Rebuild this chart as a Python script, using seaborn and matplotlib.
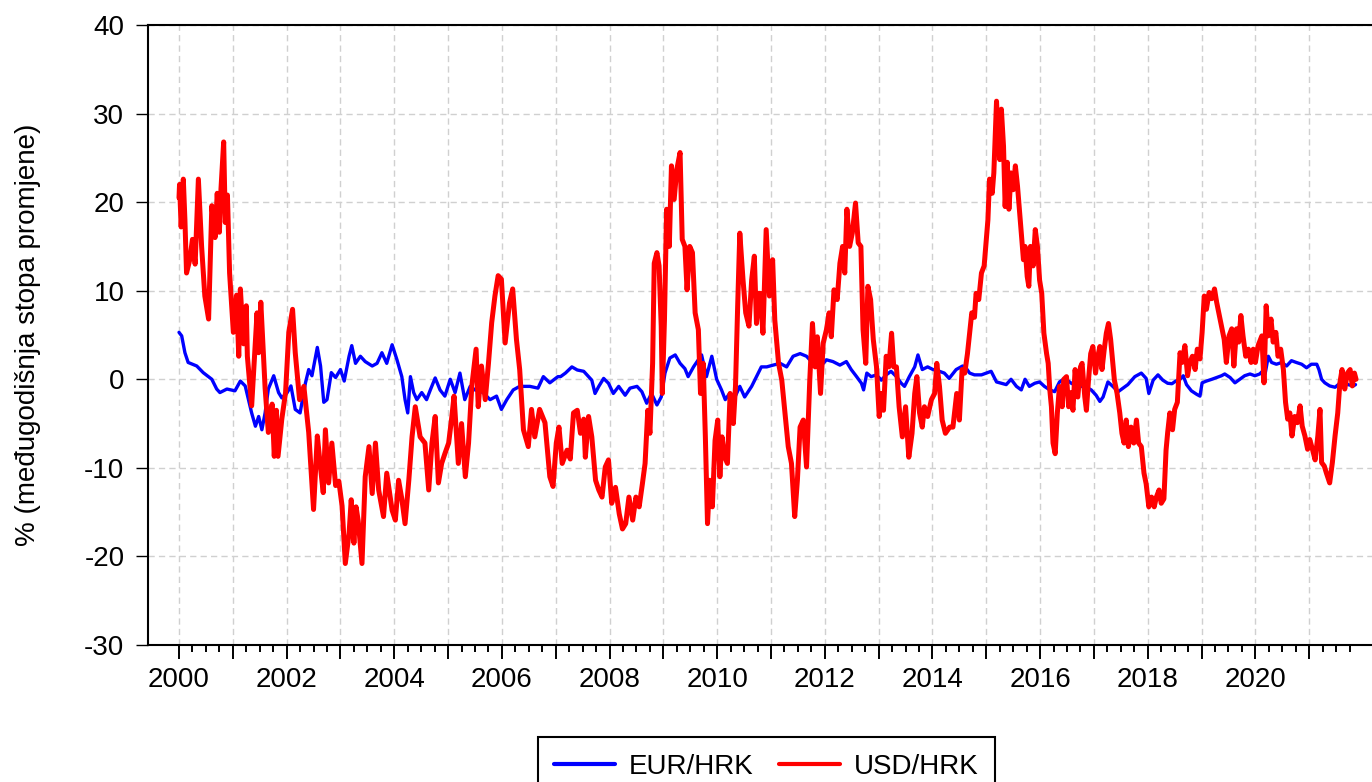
import matplotlib
matplotlib.use("Agg")
import matplotlib.pyplot as plt
import pandas as pd
import seaborn as sns
from matplotlib.ticker import FixedLocator, FixedFormatter

# ---------------- data (decimal year, % y/y change) ----------------
usd_t = [2000.00, 2000.01, 2000.04, 2000.08, 2000.11, 2000.14, 2000.20, 2000.25, 2000.30, 2000.36,
         2000.42, 2000.48, 2000.55, 2000.61, 2000.67, 2000.71, 2000.75, 2000.78, 2000.83, 2000.86,
         2000.90, 2000.94, 2001.01, 2001.07, 2001.11, 2001.14, 2001.20, 2001.25, 2001.27, 2001.35,
         2001.45, 2001.48, 2001.52, 2001.60, 2001.66, 2001.73, 2001.77, 2001.81, 2001.84, 2001.91,
         2001.98, 2002.04, 2002.11, 2002.16, 2002.24, 2002.32, 2002.41, 2002.50, 2002.57, 2002.63,
         2002.68, 2002.72, 2002.78, 2002.84, 2002.91, 2002.97, 2003.03, 2003.09, 2003.16, 2003.20,
         2003.25, 2003.29, 2003.33, 2003.40, 2003.46, 2003.53, 2003.59, 2003.65, 2003.71, 2003.80,
         2003.86, 2003.96, 2004.02, 2004.08, 2004.14, 2004.20, 2004.27, 2004.33, 2004.39, 2004.48,
         2004.57, 2004.64, 2004.70, 2004.76, 2004.82, 2004.88, 2004.94, 2005.01, 2005.07, 2005.11,
         2005.19, 2005.25, 2005.32, 2005.38, 2005.44, 2005.52, 2005.56, 2005.62, 2005.69, 2005.75,
         2005.81, 2005.87, 2005.93, 2005.99, 2006.06, 2006.14, 2006.20, 2006.27, 2006.33, 2006.40,
         2006.49, 2006.55, 2006.61, 2006.70, 2006.80, 2006.89, 2006.95, 2007.01, 2007.06, 2007.12,
         2007.21, 2007.27, 2007.33, 2007.40, 2007.46, 2007.52, 2007.55, 2007.61, 2007.67, 2007.74,
         2007.80, 2007.86, 2007.92, 2007.98, 2008.04, 2008.11, 2008.18, 2008.24, 2008.30, 2008.36,
         2008.43, 2008.49, 2008.55, 2008.61, 2008.66, 2008.71, 2008.75, 2008.80, 2008.83, 2008.88,
         2008.92, 2008.96, 2008.98, 2009.02, 2009.06, 2009.11, 2009.15, 2009.20, 2009.25, 2009.31,
         2009.35, 2009.40, 2009.44, 2009.49, 2009.54, 2009.59, 2009.65, 2009.69, 2009.74, 2009.78,
         2009.82, 2009.86, 2009.91, 2009.96, 2010.01, 2010.05, 2010.09, 2010.14, 2010.19, 2010.24,
         2010.30, 2010.34, 2010.38, 2010.42, 2010.48, 2010.53, 2010.59, 2010.64, 2010.69, 2010.73,
         2010.77, 2010.80, 2010.85, 2010.91, 2010.97, 2011.03, 2011.07, 2011.14, 2011.20, 2011.26,
         2011.32, 2011.38, 2011.44, 2011.49, 2011.54, 2011.60, 2011.66, 2011.72, 2011.77, 2011.82,
         2011.86, 2011.92, 2011.97, 2012.03, 2012.08, 2012.12, 2012.17, 2012.23, 2012.28, 2012.33,
         2012.37, 2012.41, 2012.46, 2012.51, 2012.57, 2012.62, 2012.67, 2012.71, 2012.76, 2012.80,
         2012.85, 2012.90, 2012.96, 2013.01, 2013.05, 2013.09, 2013.14, 2013.19, 2013.24, 2013.28,
         2013.33, 2013.38, 2013.44, 2013.50, 2013.56, 2013.62, 2013.67, 2013.71, 2013.76, 2013.81,
         2013.85, 2013.91, 2013.98, 2014.04, 2014.08, 2014.13, 2014.18, 2014.24, 2014.32, 2014.38,
         2014.45, 2014.50, 2014.55, 2014.60, 2014.65, 2014.69, 2014.73, 2014.78, 2014.81, 2014.86,
         2014.91, 2014.96, 2015.00, 2015.03, 2015.06, 2015.11, 2015.14, 2015.19, 2015.22, 2015.25,
         2015.28, 2015.32, 2015.35, 2015.39, 2015.42, 2015.46, 2015.50, 2015.54, 2015.58, 2015.62,
         2015.65, 2015.69, 2015.72, 2015.76, 2015.79, 2015.82, 2015.87, 2015.91, 2015.95, 2015.99,
         2016.03, 2016.07, 2016.12, 2016.15, 2016.18, 2016.21, 2016.24, 2016.28, 2016.32, 2016.36,
         2016.41, 2016.44, 2016.49, 2016.53, 2016.57, 2016.61, 2016.65, 2016.70, 2016.75, 2016.78,
         2016.83, 2016.86, 2016.90, 2016.94, 2016.98, 2017.03, 2017.06, 2017.11, 2017.15, 2017.19,
         2017.23, 2017.27, 2017.31, 2017.35, 2017.38, 2017.43, 2017.48, 2017.52, 2017.56, 2017.60,
         2017.64, 2017.69, 2017.74, 2017.79, 2017.83, 2017.88, 2017.93, 2017.97, 2018.02, 2018.07,
         2018.12, 2018.16, 2018.21, 2018.25, 2018.30, 2018.34, 2018.37, 2018.41, 2018.46, 2018.50,
         2018.55, 2018.60, 2018.64, 2018.69, 2018.74, 2018.78, 2018.83, 2018.88, 2018.92, 2018.97,
         2019.01, 2019.05, 2019.09, 2019.14, 2019.19, 2019.24, 2019.28, 2019.32, 2019.37, 2019.42,
         2019.46, 2019.51, 2019.56, 2019.60, 2019.65, 2019.69, 2019.73, 2019.77, 2019.82, 2019.87,
         2019.92, 2019.96, 2020.00, 2020.05, 2020.12, 2020.16, 2020.20, 2020.24, 2020.29, 2020.33,
         2020.38, 2020.42, 2020.47, 2020.52, 2020.56, 2020.60, 2020.64, 2020.68, 2020.73, 2020.78,
         2020.83, 2020.87, 2020.92, 2020.97, 2021.01, 2021.06, 2021.11, 2021.16, 2021.20, 2021.23,
         2021.28, 2021.32, 2021.38, 2021.43, 2021.48, 2021.53, 2021.57, 2021.61, 2021.66, 2021.71,
         2021.76, 2021.80, 2021.84, 2021.87]
usd_v = [20.5, 22.0, 17.2, 22.6, 18.0, 12.0, 13.5, 15.8, 13.0, 22.6,
         15.0, 9.4, 6.8, 19.6, 16.0, 21.0, 16.6, 21.5, 26.8, 17.7,
         20.8, 12.0, 5.3, 9.5, 2.6, 10.2, 4.0, 8.3, 2.6, -3.0,
         7.5, 3.0, 8.7, -1.0, -6.0, -2.8, -8.7, -3.5, -8.7, -4.5,
         -1.5, 5.3, 7.9, 3.0, -2.3, -0.8, -6.0, -14.7, -6.4, -10.0,
         -12.8, -5.7, -11.7, -7.2, -12.0, -11.5, -14.3, -20.8, -17.4, -13.6,
         -18.5, -14.4, -16.0, -20.8, -11.0, -7.6, -12.9, -7.2, -12.5, -15.5,
         -10.6, -14.8, -15.9, -11.4, -13.5, -16.3, -11.4, -6.5, -3.1, -6.5,
         -7.2, -12.5, -7.2, -4.2, -11.7, -9.5, -8.4, -7.2, -4.2, -1.9,
         -9.5, -5.0, -11.0, -7.2, -0.8, 3.4, -3.1, 1.5, -2.3, 1.8,
         6.4, 9.4, 11.7, 11.3, 4.1, 8.6, 10.2, 4.5, 1.1, -5.7,
         -7.6, -3.4, -6.5, -3.4, -4.9, -11.0, -12.1, -7.2, -5.4, -9.5,
         -8.0, -9.0, -3.8, -3.5, -6.1, -4.5, -8.8, -4.2, -6.5, -11.4,
         -12.5, -13.3, -9.9, -9.1, -14.0, -12.2, -15.2, -16.9, -16.3, -13.3,
         -15.9, -13.3, -14.4, -11.8, -9.5, -3.5, -6.1, 1.8, 13.1, 14.3,
         12.8, 6.0, -1.6, 6.7, 19.2, 15.0, 24.1, 20.3, 23.7, 25.6,
         15.8, 15.0, 10.1, 15.0, 14.3, 7.5, 5.6, -1.6, 1.8, -6.5,
         -16.3, -11.4, -14.4, -6.9, -4.6, -11.0, -6.5, -8.8, -9.5, -1.6,
         -5.0, -0.8, 8.2, 16.5, 11.2, 7.5, 6.0, 11.2, 13.9, 6.3,
         9.7, 9.7, 5.2, 16.9, 9.4, 13.5, 6.7, 1.8, -0.1, -3.8,
         -7.6, -9.5, -15.5, -11.4, -5.4, -4.6, -9.9, -0.1, 6.3, 1.4,
         4.8, -1.6, 4.1, 5.6, 7.5, 4.8, 10.1, 9.0, 13.1, 15.0,
         12.0, 19.2, 15.0, 16.5, 19.9, 15.4, 15.0, 5.6, 1.8, 10.5,
         9.0, 4.5, 1.4, -4.2, -1.6, -3.5, 2.6, 1.4, 5.2, 1.4,
         1.4, -3.1, -6.5, -3.1, -8.8, -6.1, -1.6, 0.3, -3.8, -5.4,
         -3.1, -4.2, -2.3, -1.6, 1.8, -0.8, -4.6, -6.1, -5.4, -5.4,
         -1.6, -4.6, 1.1, 0.7, 2.9, 5.2, 7.5, 7.0, 9.7, 9.0,
         12.0, 12.8, 15.8, 18.0, 22.6, 21.0, 23.3, 31.4, 27.1, 24.8,
         30.5, 26.3, 19.5, 24.5, 19.2, 23.3, 21.4, 24.1, 21.8, 18.8,
         16.5, 13.5, 15.0, 11.6, 10.5, 15.0, 12.8, 16.9, 15.0, 11.2,
         9.7, 5.2, 2.9, 1.8, -1.2, -3.1, -7.2, -8.4, -3.8, -0.8,
         -3.1, 0.0, 0.3, -3.1, -1.5, -3.5, 1.1, -2.0, 1.4, 1.8,
         -2.0, -3.5, 0.0, 2.9, 3.7, 0.7, 2.2, 3.7, 1.1, 3.3,
         5.2, 6.3, 4.5, 1.8, -0.1, -1.6, -3.8, -6.1, -7.2, -4.6,
         -7.6, -5.4, -7.2, -4.6, -7.2, -7.6, -10.6, -11.8, -14.4, -13.3,
         -14.4, -13.3, -12.5, -14.0, -13.5, -8.0, -6.0, -3.8, -5.7, -3.4,
         -2.6, 3.0, 1.9, 3.8, 0.4, 1.9, 2.6, 1.1, 3.4, 2.3,
         5.3, 9.4, 7.9, 9.8, 9.1, 10.2, 8.7, 7.5, 6.0, 4.5,
         1.9, 4.9, 5.7, 1.5, 5.7, 4.2, 7.2, 4.9, 2.6, 3.4,
         1.9, 3.4, 1.9, 3.8, 4.9, -0.4, 8.3, 4.9, 6.8, 4.2,
         5.3, 2.6, 3.4, 1.1, -2.6, -4.5, -3.8, -6.4, -4.2, -4.9,
         -3.0, -5.3, -6.4, -7.9, -6.8, -7.9, -9.1, -6.4, -3.4, -9.4,
         -9.8, -10.6, -11.7, -9.4, -6.4, -3.8, -0.4, 1.1, -1.1, 0.7,
         1.1, -0.75, 0.7, 0.0]

eur_t = [2000.00, 2000.05, 2000.11, 2000.17, 2000.33, 2000.45, 2000.61, 2000.70, 2000.76, 2000.89,
         2001.04, 2001.14, 2001.23, 2001.29, 2001.35, 2001.42, 2001.48, 2001.54, 2001.60, 2001.66,
         2001.76, 2001.85, 2001.91, 2002.01, 2002.08, 2002.16, 2002.25, 2002.35, 2002.41, 2002.47,
         2002.57, 2002.63, 2002.69, 2002.75, 2002.83, 2002.91, 2003.00, 2003.07, 2003.16, 2003.21,
         2003.28, 2003.37, 2003.46, 2003.59, 2003.68, 2003.77, 2003.86, 2003.96, 2004.05, 2004.14,
         2004.20, 2004.25, 2004.30, 2004.36, 2004.42, 2004.51, 2004.60, 2004.67, 2004.76, 2004.85,
         2004.94, 2005.04, 2005.13, 2005.22, 2005.31, 2005.41, 2005.50, 2005.65, 2005.78, 2005.90,
         2005.99, 2006.09, 2006.21, 2006.33, 2006.52, 2006.67, 2006.77, 2006.89, 2007.04, 2007.09,
         2007.18, 2007.30, 2007.40, 2007.52, 2007.61, 2007.67, 2007.73, 2007.80, 2007.89, 2007.98,
         2008.07, 2008.17, 2008.29, 2008.38, 2008.51, 2008.60, 2008.69, 2008.78, 2008.88, 2008.96,
         2009.03, 2009.12, 2009.22, 2009.31, 2009.40, 2009.46, 2009.56, 2009.65, 2009.71, 2009.80,
         2009.90, 2009.99, 2010.08, 2010.15, 2010.23, 2010.33, 2010.42, 2010.51, 2010.64, 2010.73,
         2010.82, 2010.92, 2011.04, 2011.17, 2011.29, 2011.41, 2011.54, 2011.66, 2011.78, 2011.91,
         2012.03, 2012.15, 2012.28, 2012.40, 2012.49, 2012.59, 2012.68, 2012.72, 2012.78, 2012.86,
         2012.96, 2013.05, 2013.14, 2013.23, 2013.33, 2013.42, 2013.48, 2013.57, 2013.67, 2013.73,
         2013.81, 2013.91, 2014.01, 2014.13, 2014.22, 2014.31, 2014.44, 2014.56, 2014.62, 2014.69,
         2014.78, 2014.91, 2015.00, 2015.09, 2015.19, 2015.28, 2015.37, 2015.46, 2015.56, 2015.65,
         2015.72, 2015.80, 2015.90, 2015.99, 2016.08, 2016.18, 2016.27, 2016.36, 2016.46, 2016.58,
         2016.70, 2016.83, 2016.95, 2017.04, 2017.11, 2017.17, 2017.26, 2017.35, 2017.45, 2017.54,
         2017.63, 2017.76, 2017.88, 2017.97, 2018.02, 2018.10, 2018.19, 2018.28, 2018.37, 2018.45,
         2018.52, 2018.60, 2018.66, 2018.72, 2018.81, 2018.91, 2018.97, 2019.01, 2019.09, 2019.19,
         2019.28, 2019.37, 2019.43, 2019.53, 2019.62, 2019.71, 2019.80, 2019.90, 2019.99, 2020.08,
         2020.13, 2020.18, 2020.24, 2020.30, 2020.39, 2020.49, 2020.58, 2020.67, 2020.76, 2020.86,
         2020.95, 2021.04, 2021.14, 2021.18, 2021.23, 2021.29, 2021.38, 2021.48, 2021.54, 2021.63,
         2021.72, 2021.82, 2021.86]
eur_v = [5.3, 4.9, 3.0, 1.9, 1.5, 0.75, 0.0, -1.1, -1.5, -1.1,
         -1.3, -0.2, -0.75, -2.3, -3.8, -5.3, -4.2, -5.7, -3.8, -1.1,
         0.4, -1.5, -2.1, -1.5, -0.75, -3.4, -3.8, -0.4, 1.1, 0.4,
         3.6, 1.5, -2.6, -2.3, 0.75, 0.2, 1.1, -0.2, 2.6, 3.8,
         1.8, 2.6, 2.0, 1.5, 1.8, 3.0, 1.8, 3.9, 2.2, 0.3,
         -2.3, -3.8, 0.3, -1.5, -2.3, -1.5, -2.3, -1.2, 0.15, -1.2,
         -1.9, 0.0, -1.5, 0.7, -2.3, -0.8, -1.2, -1.5, -2.3, -1.9,
         -3.4, -2.3, -1.2, -0.8, -0.8, -1.0, 0.3, -0.4, 0.3, 0.3,
         0.7, 1.4, 1.05, 0.9, 0.3, -0.1, -1.6, -0.8, 0.1, -0.45,
         -1.6, -0.8, -1.8, -1.0, -0.8, -1.4, -2.7, -1.6, -2.9, -2.0,
         0.7, 2.4, 2.75, 1.8, 1.2, 0.3, 1.4, 2.2, 2.75, 0.3,
         2.6, 0.0, -1.2, -2.3, -1.6, -2.0, -0.8, -2.0, -0.8, 0.3,
         1.4, 1.4, 1.6, 1.8, 1.4, 2.6, 2.9, 2.6, 1.8, 1.4,
         2.2, 2.0, 1.6, 2.0, 1.1, 0.3, -0.45, -1.2, 0.7, 0.3,
         0.5, -0.1, 0.5, 0.9, 0.3, -0.45, -0.8, 0.3, 1.4, 2.75,
         1.1, 1.4, 1.1, 0.9, 0.7, 0.1, 1.1, 1.5, 1.3, 0.7,
         0.5, 0.5, 0.7, 0.9, -0.3, -0.45, -0.6, 0.0, -0.8, -1.2,
         0.0, -0.8, -0.45, -0.3, -0.8, -1.2, -1.4, -0.3, 0.1, -0.45,
         -0.8, -0.8, -1.2, -1.8, -2.5, -2.0, -0.3, -0.8, -1.4, -1.0,
         -0.6, 0.3, 0.7, 0.1, -1.6, -0.1, 0.5, -0.1, -0.45, -0.5,
         -0.2, 0.0, 0.4, -0.6, -1.3, -1.7, -1.9, -0.4, -0.2, 0.0,
         0.2, 0.4, 0.6, 0.2, -0.4, 0.0, 0.4, 0.6, 0.4, 0.6,
         0.9, 0.6, 2.6, 1.9, 1.7, 1.9, 1.5, 2.1, 1.9, 1.7,
         1.3, 1.7, 1.7, 1.1, 0.0, -0.4, -0.75, -0.9, -0.6, -0.2,
         -0.6, -0.75, -0.6]

series_names = ["EUR/HRK", "USD/HRK"]
series_colors = ["#0000ff", "#ff0000"]
year_ticks = list(range(2000, 2022))
year_labels = [str(y) if y % 2 == 0 else "" for y in year_ticks]
quarter_ticks = [y + q / 4 for y in range(2000, 2022) for q in (1, 2, 3)]
y_ticks = [-30, -20, -10, 0, 10, 20, 30, 40]
y_label = "% (međugodišnja stopa promjene)"

# ---------------- style ----------------
sns.set_theme(style="white")
plt.rcParams["font.family"] = ["Liberation Sans", "DejaVu Sans"]
plt.rcParams["axes.unicode_minus"] = False
plt.rcParams["text.color"] = "black"
plt.rcParams["axes.labelcolor"] = "black"

fig = plt.figure(figsize=(13.72, 7.82), dpi=100)
# axes deliberately extends past the right edge of the figure (cropped, like the original)
ax = fig.add_axes([148 / 1372, 1 - 645 / 782, (1380 - 148) / 1372, (645 - 25) / 782])

df = pd.concat([
    pd.DataFrame({"t": eur_t, "v": eur_v, "s": series_names[0]}),
    pd.DataFrame({"t": usd_t, "v": usd_v, "s": series_names[1]}),
], ignore_index=True)

sns.lineplot(data=df[df.s == series_names[0]], x="t", y="v", color=series_colors[0],
             linewidth=2.4, estimator=None, sort=False, ax=ax, label=series_names[0])
sns.lineplot(data=df[df.s == series_names[1]], x="t", y="v", color=series_colors[1],
             linewidth=3.6, estimator=None, sort=False, ax=ax, label=series_names[1])

ax.set_xlim(1999.424, 2000 + (1380 - 179) / 53.82)
ax.set_ylim(-30, 40)

ax.xaxis.set_major_locator(FixedLocator(year_ticks))
ax.xaxis.set_major_formatter(FixedFormatter(year_labels))
ax.xaxis.set_minor_locator(FixedLocator(quarter_ticks))
ax.yaxis.set_major_locator(FixedLocator(y_ticks))

ax.tick_params(axis="x", which="major", direction="out", length=10, width=1.4,
               colors="black", labelsize=20, pad=6, bottom=True)
ax.tick_params(axis="x", which="minor", direction="out", length=5, width=1.4,
               colors="black", bottom=True)
ax.tick_params(axis="y", which="major", direction="out", length=9, width=1.0,
               colors="black", labelsize=20, pad=8, left=True)

ax.grid(True, which="major", axis="both", color="#d0d0d0", linewidth=1.0,
        linestyle=(0, (4.5, 3)))
ax.set_axisbelow(True)

for side in ["left", "bottom", "top", "right"]:
    ax.spines[side].set_color("black")
    ax.spines[side].set_linewidth(1.5)

ax.set_xlabel("")
ax.set_ylabel(y_label, fontsize=20, color="black")
ax.yaxis.set_label_coords((42 - 148) / 1215, 0.5)

leg = ax.legend(loc="upper center", bbox_to_anchor=(766.5 / 1372, 1 - 737 / 782),
                bbox_transform=fig.transFigure, ncol=2, fontsize=20, frameon=True,
                fancybox=False, edgecolor="black", framealpha=1, borderpad=0.6,
                borderaxespad=0.0, handlelength=2.2, handletextpad=0.5, columnspacing=0.9,
                labelcolor="black")
leg.get_frame().set_linewidth(1.5)
for line in leg.get_lines():
    line.set_linewidth(3.0)

fig.savefig("out.png", dpi=100)
